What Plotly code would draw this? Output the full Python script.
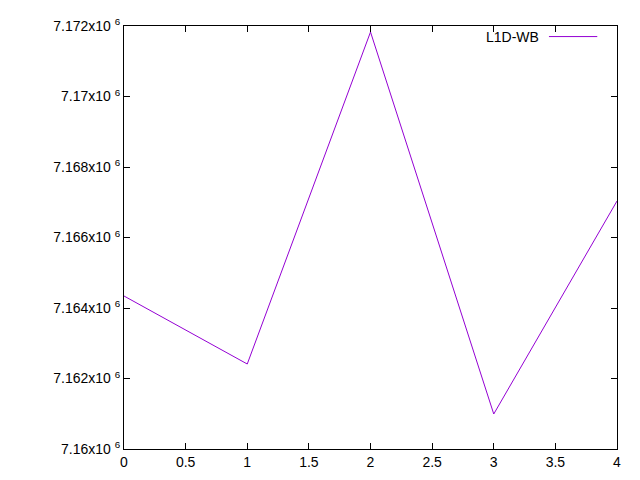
import plotly.graph_objects as go

x_vals = [0, 1, 2, 3, 4]
y_vals = [7164340, 7162411, 7171830, 7160993, 7167035]
y_ticks = [7160000, 7162000, 7164000, 7166000, 7168000, 7170000, 7172000]
y_labels = ["7.16x10 <sup>6</sup>", "7.162x10 <sup>6</sup>", "7.164x10 <sup>6</sup>", "7.166x10 <sup>6</sup>",
            "7.168x10 <sup>6</sup>", "7.17x10 <sup>6</sup>", "7.172x10 <sup>6</sup>"]
x_ticks = [0, 0.5, 1, 1.5, 2, 2.5, 3, 3.5, 4]
x_labels = ["0", "0.5", "1", "1.5", "2", "2.5", "3", "3.5", "4"]
series_name = "L1D-WB"
line_color = "#9400d3"

fig = go.Figure()
fig.add_trace(go.Scatter(x=x_vals, y=y_vals, mode="lines", name=series_name,
                         line=dict(color=line_color, width=1), showlegend=False))

axis_common = dict(showgrid=False, zeroline=False, showline=True, mirror="ticks",
                   linecolor="black", linewidth=1, ticks="inside", ticklen=6,
                   tickcolor="black", automargin=False)
fig.update_xaxes(range=[0, 4], tickvals=x_ticks, ticktext=x_labels, **axis_common)
fig.update_yaxes(range=[7160000, 7172000], tickvals=y_ticks, ticktext=y_labels, **axis_common)

# gnuplot-style key: label then line sample
fig.add_annotation(text=series_name, xref="paper", yref="paper", x=0.845, y=0.975,
                   xanchor="right", yanchor="middle", showarrow=False)
fig.add_shape(type="line", xref="paper", yref="paper", x0=0.862, x1=0.96, y0=0.975, y1=0.975,
              line=dict(color=line_color, width=1))

fig.update_layout(
    width=640, height=480,
    margin=dict(l=116, r=31, t=18, b=39),
    paper_bgcolor="white", plot_bgcolor="white",
    font=dict(family="Liberation Sans, Arial, sans-serif", size=14, color="black"),
)
fig.write_html("out.html")
